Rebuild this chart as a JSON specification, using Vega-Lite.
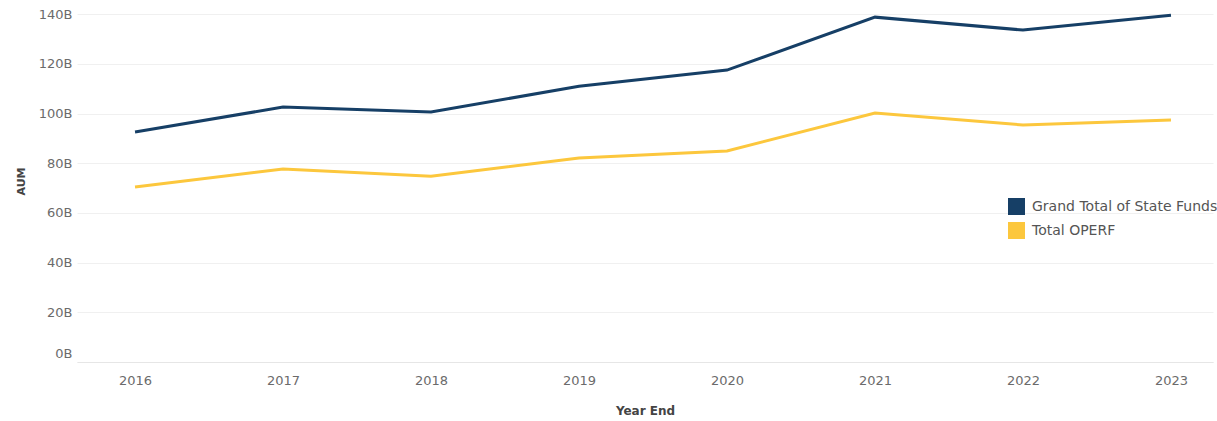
{
  "$schema": "https://vega.github.io/schema/vega-lite/v6.json",
  "autosize": {"type": "none"},
  "padding": {"left": 77, "top": 0, "right": 4, "bottom": 59},
  "width": 1136,
  "height": 362,
  "background": "white",
  "config": {"view": {"stroke": null}, "font": "DejaVu Sans"},
  "data": {"values": [
    {"year": 2016, "series": "Grand Total of State Funds", "aum": 92.6},
    {"year": 2017, "series": "Grand Total of State Funds", "aum": 102.6},
    {"year": 2018, "series": "Grand Total of State Funds", "aum": 100.6},
    {"year": 2019, "series": "Grand Total of State Funds", "aum": 111.0},
    {"year": 2020, "series": "Grand Total of State Funds", "aum": 117.5},
    {"year": 2021, "series": "Grand Total of State Funds", "aum": 138.8},
    {"year": 2022, "series": "Grand Total of State Funds", "aum": 133.6},
    {"year": 2023, "series": "Grand Total of State Funds", "aum": 139.6},
    {"year": 2016, "series": "Total OPERF", "aum": 70.4},
    {"year": 2017, "series": "Total OPERF", "aum": 77.7},
    {"year": 2018, "series": "Total OPERF", "aum": 74.8},
    {"year": 2019, "series": "Total OPERF", "aum": 82.1},
    {"year": 2020, "series": "Total OPERF", "aum": 84.9},
    {"year": 2021, "series": "Total OPERF", "aum": 100.2},
    {"year": 2022, "series": "Total OPERF", "aum": 95.4},
    {"year": 2023, "series": "Total OPERF", "aum": 97.4}
  ]},
  "mark": {"type": "line", "strokeWidth": 3, "clip": true},
  "encoding": {
    "x": {
      "field": "year", "type": "quantitative",
      "scale": {"domain": [2015.608, 2023.284], "nice": false, "zero": false},
      "axis": {
        "title": "Year End", "values": [2016, 2017, 2018, 2019, 2020, 2021, 2022, 2023],
        "format": "d", "grid": false, "ticks": false,
        "domainColor": "#e6e6e6", "labelColor": "#6b6b6b", "labelFontSize": 13,
        "labelPadding": 12, "titleFontSize": 12, "titleFontWeight": "bold",
        "titleColor": "#444444", "titlePadding": 18
      }
    },
    "y": {
      "field": "aum", "type": "quantitative",
      "scale": {"domain": [0, 145.7], "nice": false},
      "axis": {
        "title": "AUM", "values": [0, 20, 40, 60, 80, 100, 120, 140],
        "labelExpr": "datum.value + 'B'", "ticks": false, "domain": false,
        "labelOffset": {"condition": {"test": "datum.value === 0", "value": -9}, "value": 0},
        "gridColor": "#f0f0f0", "labelColor": "#6b6b6b", "labelFontSize": 13,
        "labelPadding": 5, "titleFontSize": 11, "titleFontWeight": "bold",
        "titleColor": "#444444", "titlePadding": 12
      }
    },
    "color": {
      "field": "series", "type": "nominal",
      "scale": {"domain": ["Grand Total of State Funds", "Total OPERF"], "range": ["#163f66", "#fcc73d"]},
      "legend": {
        "title": null, "orient": "none", "legendX": 931, "legendY": 198,
        "symbolType": "square", "symbolSize": 289, "symbolStrokeWidth": 0,
        "symbolOpacity": 1, "labelFontSize": 14, "labelColor": "#555555",
        "rowPadding": 7, "labelOffset": 7, "labelLimit": 300,
        "encode": {"symbols": {"update": {"fill": {"scale": "color", "field": "value"}, "fillOpacity": {"value": 1}, "strokeWidth": {"value": 0}}}}
      }
    }
  }
}
